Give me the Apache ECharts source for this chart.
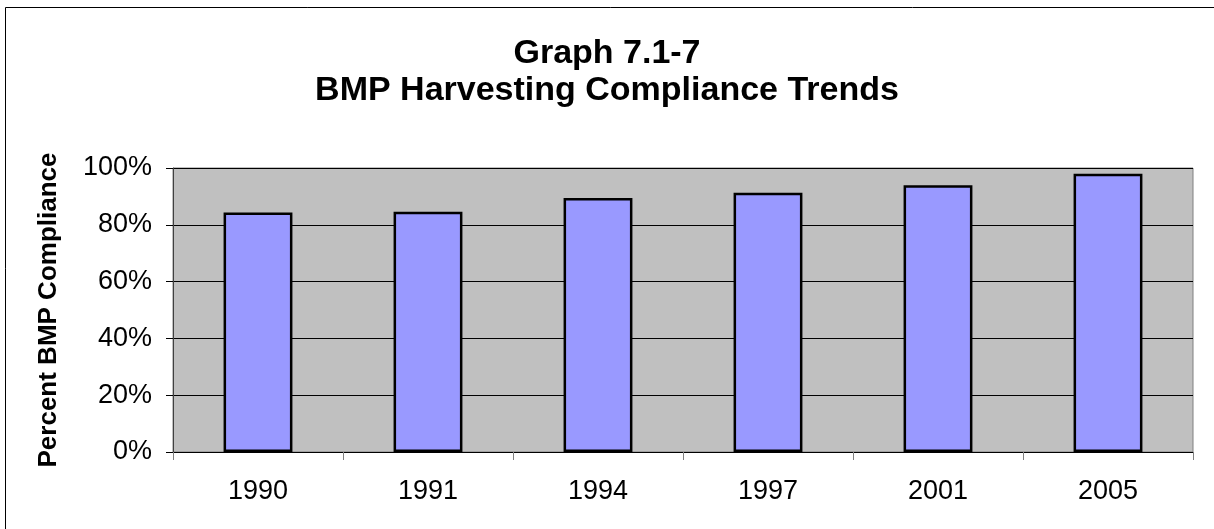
<!DOCTYPE html>
<html>
<head>
<meta charset="utf-8">
<script src="https://cdn.jsdelivr.net/npm/echarts@6/dist/echarts.min.js"></script>
<style>
html,body{margin:0;padding:0;background:#fff;}
#chart{width:1214px;height:529px;}
</style>
</head>
<body>
<div id="chart"></div>
<script>
const categories = ['1990', '1991', '1994', '1997', '2001', '2005'];
const compliance = [84.3, 84.6, 89.4, 91.3, 93.9, 98.0];
const titleLines = ['Graph 7.1-7', 'BMP Harvesting Compliance Trends'];
const yAxisName = 'Percent BMP Compliance';

const FONT = "'Liberation Sans', Arial, sans-serif";
const chart = echarts.init(document.getElementById('chart'), null, {renderer: 'canvas'});
chart.setOption({
  animation: false,
  backgroundColor: '#ffffff',
  textStyle: {fontFamily: FONT},
  graphic: [{
    type: 'rect',
    shape: {x: 5.5, y: 7.5, width: 1400, height: 700},
    style: {fill: 'none', stroke: '#000', lineWidth: 1},
    silent: true, z: -1
  }],
  title: {
    text: titleLines.join('\n'),
    left: 'center',
    top: 30,
    textStyle: {fontFamily: FONT, fontSize: 34, fontWeight: 'bold', color: '#000', lineHeight: 37}
  },
  grid: {
    left: 173, right: 21, top: 168, bottom: 77,
    show: true, backgroundColor: '#C0C0C0', borderColor: '#808080', borderWidth: 1
  },
  xAxis: {
    type: 'category',
    data: categories,
    axisLine: {show: true, lineStyle: {color: '#000', width: 1}},
    axisTick: {show: true, length: 8, inside: false, lineStyle: {color: '#808080'}},
    axisLabel: {fontFamily: FONT, fontSize: 27, color: '#000', margin: 26},
    splitLine: {show: false}
  },
  yAxis: {
    type: 'value',
    min: 0, max: 100, interval: 20,
    name: yAxisName,
    nameLocation: 'middle',
    nameRotate: 90,
    nameGap: 111,
    nameTextStyle: {fontFamily: FONT, fontSize: 26, fontWeight: 'bold', color: '#000'},
    axisLine: {show: true, lineStyle: {color: '#404040', width: 1}},
    axisTick: {show: true, length: 7, lineStyle: {color: '#000'}},
    axisLabel: {fontFamily: FONT, fontSize: 27, color: '#000', margin: 21, formatter: '{value}%'},
    splitLine: {show: true, lineStyle: {color: '#000', width: 1}}
  },
  series: [{
    type: 'bar',
    data: compliance,
    barWidth: '40.5%',
    itemStyle: {color: '#9999FF', borderColor: '#000', borderWidth: 2.5}
  }]
});
</script>
</body>
</html>
